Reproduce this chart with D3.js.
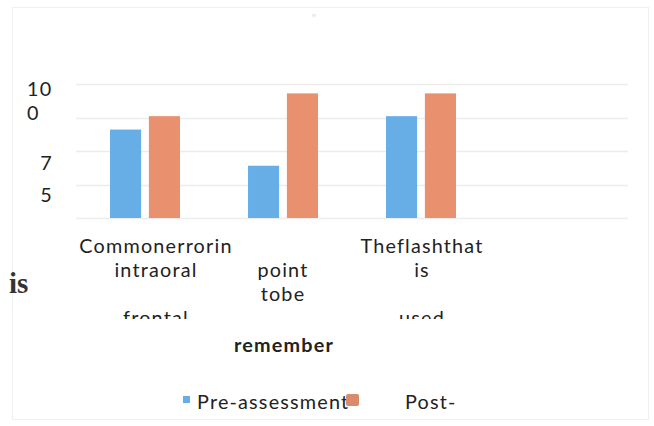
<!DOCTYPE html>
<html><head><meta charset="utf-8">
<script src="https://cdn.jsdelivr.net/npm/d3@7"></script>
<style>body{margin:0;background:#fff}svg{display:block}</style>
</head><body>
<svg id="c" width="654" height="426"></svg>
<script>
// data
const categories = ["c1", "c2", "c3", "c4"];
const categoryLines = [["Commonerrorin", "intraoral", "", "frontal"], ["", "point", "tobe"], ["Theflashthat", "is", "", "used"], []];
const extraLabel = "remember";
const seriesNames = ["Pre-assessment", "Post-"];
const preValues = [66, 39, 76, null];
const postValues = [76, 93, 93, null];
const gridValues = [0, 25, 50, 75, 100];
const yTickLabels = ["10", "0", "7", "5"];
const yTickValues = [96, 78, 41, 17];
const colors = ["#68aee6", "#e9906e"];

const svg = d3.select("#c");
const font = "Lato, 'Open Sans', sans-serif";
const fs = 19.8;
const ls = "1.2px";
const labelShift = [11, 0, 1, 0];

// faint page frame
svg.append("rect").attr("x", 12.5).attr("y", 7.5).attr("width", 636).attr("height", 412)
  .attr("fill", "none").attr("stroke", "#f0f0f0");

const y = d3.scaleLinear().domain([0, 100]).range([218, 84]);
const x0 = d3.scaleBand().domain(categories).range([76, 628]).paddingInner(0.493).paddingOuter(0.2465);
const x1 = d3.scaleBand().domain(seriesNames).range([0, x0.bandwidth()]).paddingInner(0.2);

// gridlines
svg.append("g").selectAll("line").data(gridValues).join("line")
  .attr("x1", 76).attr("x2", 628)
  .attr("y1", d => Math.round(y(d)) + 0.5).attr("y2", d => Math.round(y(d)) + 0.5)
  .attr("stroke", "#ececec").attr("stroke-width", 1.5);

// bars
const rows = categories.map((c, i) => ({ c, vals: [preValues[i], postValues[i]] }));
const g = svg.append("g");
rows.forEach(r => {
  r.vals.forEach((v, j) => {
    if (v == null) return;
    g.append("rect")
      .attr("x", x0(r.c) + x1(seriesNames[j]))
      .attr("y", y(v))
      .attr("width", x1.bandwidth())
      .attr("height", y(0) - y(v))
      .attr("fill", colors[j]);
  });
});

// y tick labels (garbled as in source)
svg.append("g").selectAll("text").data(yTickLabels).join("text")
  .attr("x", (d, i) => i < 2 ? 27 : 53)
  .attr("text-anchor", (d, i) => i < 2 ? "start" : "end")
  .attr("y", (d, i) => y(yTickValues[i]))
  .attr("dy", "0.35em")
  .attr("font-family", font).attr("font-size", fs).attr("letter-spacing", ls).attr("fill", "#222")
  .text(d => d);

// category labels, clipped (one text per category, lines as tspans)
svg.append("clipPath").attr("id", "clipx").append("rect")
  .attr("x", 60).attr("y", 228).attr("width", 540).attr("height", 91);
const lab = svg.append("g").attr("clip-path", "url(#clipx)");
categories.forEach((c, i) => {
  if (!categoryLines[i].length) return;
  const cx = x0(c) + x0.bandwidth() / 2 + labelShift[i];
  const t = lab.append("text").attr("text-anchor", "middle")
    .attr("font-family", font).attr("font-size", fs).attr("letter-spacing", ls).attr("fill", "#222");
  categoryLines[i].forEach((s, k) => {
    if (!s) return;
    t.append("tspan").attr("x", cx).attr("y", 253 + k * 24).text(s);
  });
});
svg.append("text").attr("x", x0(categories[1]) + x0.bandwidth() / 2 + 1).attr("y", 352)
  .attr("text-anchor", "middle").attr("font-family", font).attr("font-size", fs)
  .attr("letter-spacing", ls).attr("font-weight", "bold").attr("fill", "#222").text(extraLabel);

// stray serif text from the page
svg.append("text").attr("x", 9).attr("y", 293)
  .attr("font-family", "'Liberation Serif', serif").attr("font-size", 29).attr("font-weight", "bold")
  .attr("fill", "#333").text("is");
svg.append("text").attr("x", 312).attr("y", 22).attr("font-family", font).attr("font-size", 10)
  .attr("fill", "#ddd").text("ꞌꞌ");

// legend
svg.append("rect").attr("x", 183).attr("y", 396).attr("width", 7).attr("height", 7).attr("fill", colors[0]);
svg.append("text").attr("x", 197).attr("y", 409).attr("font-family", font).attr("font-size", fs)
  .attr("letter-spacing", ls).attr("fill", "#222").text(seriesNames[0]);
svg.append("rect").attr("x", 346).attr("y", 394).attr("width", 13).attr("height", 12).attr("rx", 2)
  .attr("fill", "#d98b6c");
svg.append("text").attr("x", 405).attr("y", 409).attr("font-family", font).attr("font-size", fs)
  .attr("letter-spacing", ls).attr("fill", "#222").text(seriesNames[1]);
</script>
</body></html>
